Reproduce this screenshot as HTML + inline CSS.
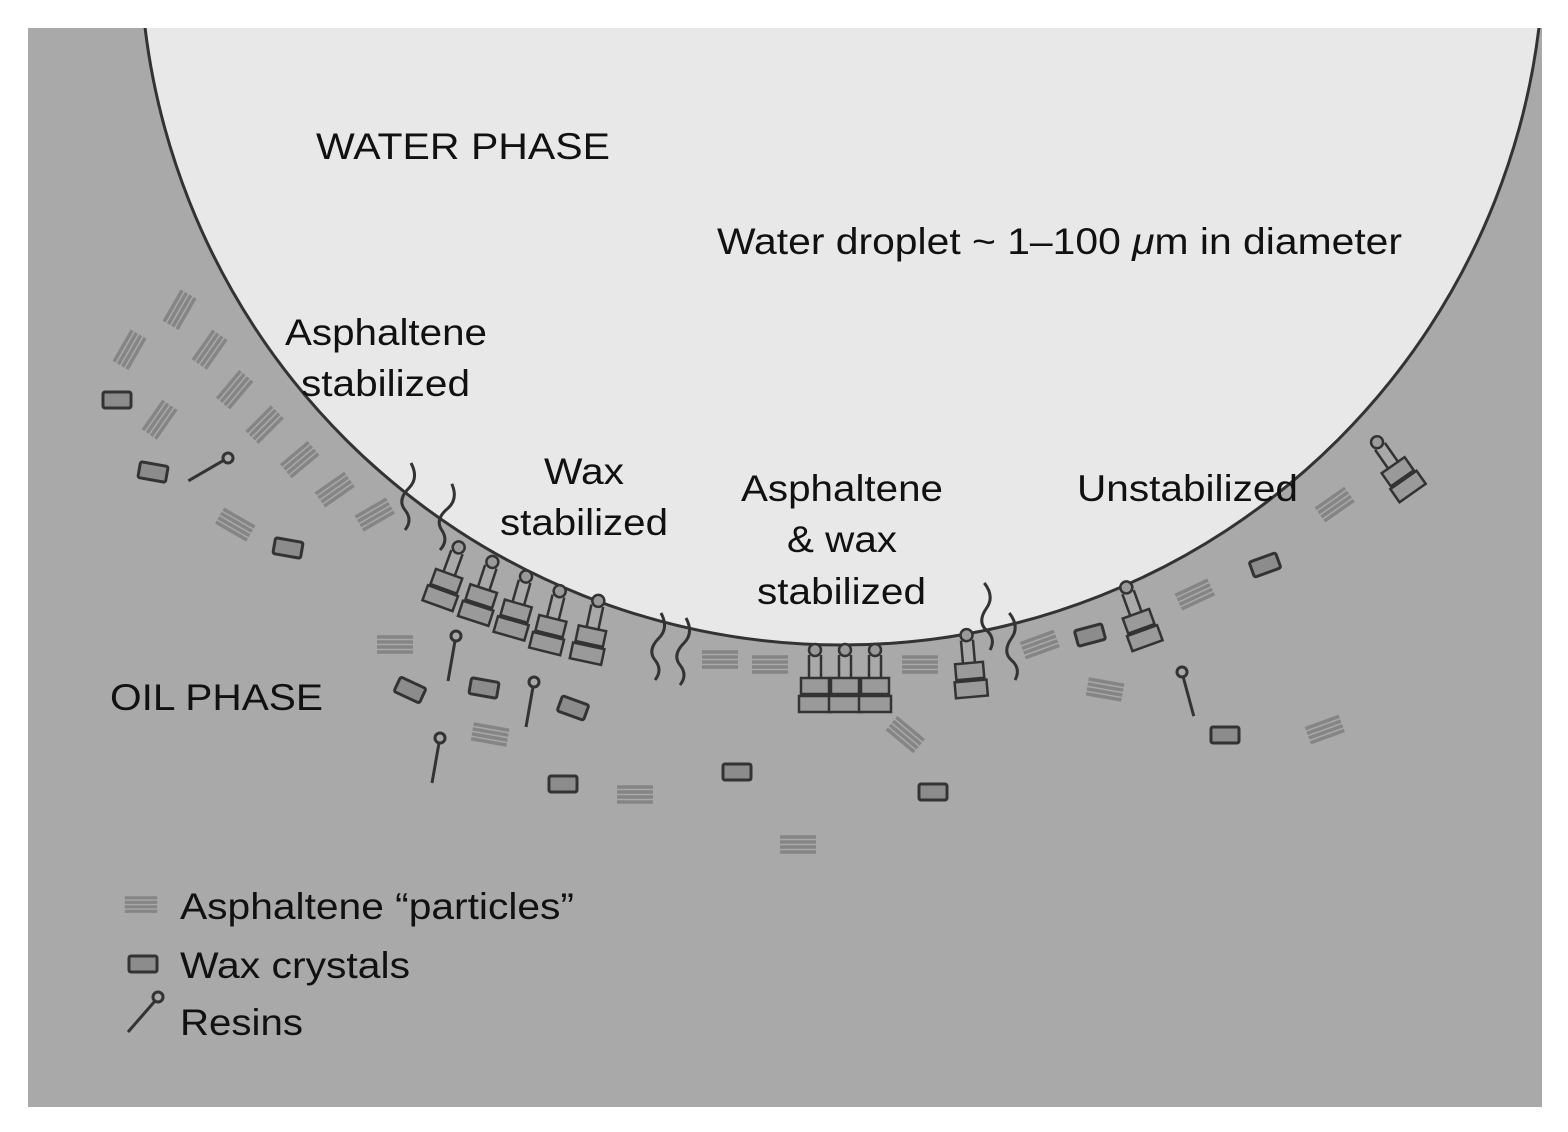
<!DOCTYPE html>
<html><head><meta charset="utf-8"><style>
html,body{margin:0;padding:0;background:#fff;}
svg{display:block}
text{font-family:"Liberation Sans",sans-serif;fill:#111}
</style></head><body>
<svg width="1568" height="1132" viewBox="0 0 1568 1132" xmlns="http://www.w3.org/2000/svg">
<defs>
<clipPath id="f"><rect x="28" y="28" width="1514" height="1079"/></clipPath>
<g id="wx"><rect x="-14" y="-8" width="28" height="16" rx="2" fill="#8c8c8c" stroke="#333" stroke-width="3"/></g>
<g id="as" stroke="#858585" stroke-width="3.5"><line x1="-18" y1="-8" x2="18" y2="-8"/><line x1="-18" y1="-3" x2="18" y2="-3"/><line x1="-18" y1="2" x2="18" y2="2"/><line x1="-18" y1="7" x2="18" y2="7"/></g>
<g id="rs" stroke="#333" stroke-width="3" fill="none"><circle cx="0" cy="0" r="5"/><line x1="-1" y1="5" x2="-8" y2="45"/></g>
<g id="stk" stroke="#333" stroke-width="2.5" fill="#9a9a9a"><circle cx="0" cy="-40" r="6"/><line x1="-6" y1="-35" x2="-6" y2="-12"/><line x1="6" y1="-35" x2="6" y2="-12"/><rect x="-14" y="-12" width="28" height="16"/><rect x="-16" y="6" width="32" height="16"/></g>
<g id="wig" stroke="#333" stroke-width="3" fill="none"><path d="M0 0 q8 -10 0 -20 q-8 -10 4 -22 q10 -10 2 -25"/></g>
</defs>
<rect x="0" y="0" width="1568" height="1132" fill="#fff"/>
<g clip-path="url(#f)">
<rect x="28" y="28" width="1514" height="1079" fill="#a9a9a9"/>
<circle cx="842" cy="-57" r="702" fill="#e8e8e8" stroke="#333" stroke-width="3"/>
<g>
<use href="#as" transform="translate(180,310) rotate(-60)"/>
<use href="#as" transform="translate(210,350) rotate(-55)"/>
<use href="#as" transform="translate(235,390) rotate(-50)"/>
<use href="#as" transform="translate(265,425) rotate(-45)"/>
<use href="#as" transform="translate(300,460) rotate(-40)"/>
<use href="#as" transform="translate(335,490) rotate(-35)"/>
<use href="#as" transform="translate(375,515) rotate(-30)"/>
<use href="#as" transform="translate(130,350) rotate(-60)"/>
<use href="#as" transform="translate(160,420) rotate(-55)"/>
<use href="#as" transform="translate(235,525) rotate(30)"/>
<use href="#as" transform="translate(395,645)"/>
<use href="#as" transform="translate(490,735) rotate(10)"/>
<use href="#as" transform="translate(635,795)"/>
<use href="#as" transform="translate(798,845)"/>
<use href="#as" transform="translate(720,660)"/>
<use href="#as" transform="translate(770,665)"/>
<use href="#as" transform="translate(920,665)"/>
<use href="#as" transform="translate(905,735) rotate(40)"/>
<use href="#as" transform="translate(1040,645) rotate(-20)"/>
<use href="#as" transform="translate(1105,690) rotate(10)"/>
<use href="#as" transform="translate(1195,595) rotate(-25)"/>
<use href="#as" transform="translate(1335,505) rotate(-35)"/>
<use href="#as" transform="translate(1325,730) rotate(-20)"/>
</g>
<use href="#stk" transform="translate(445,585) rotate(20)"/>
<use href="#stk" transform="translate(480,600) rotate(18)"/>
<use href="#stk" transform="translate(515,615) rotate(16)"/>
<use href="#stk" transform="translate(550,630) rotate(14)"/>
<use href="#stk" transform="translate(590,640) rotate(12)"/>
<use href="#stk" transform="translate(815,690)"/>
<use href="#stk" transform="translate(845,690)"/>
<use href="#stk" transform="translate(875,690)"/>
<use href="#stk" transform="translate(970,675) rotate(-5)"/>
<use href="#stk" transform="translate(1140,625) rotate(-20)"/>
<use href="#stk" transform="translate(1400,475) rotate(-35)"/>
<use href="#wx" transform="translate(117,400)"/>
<use href="#wx" transform="translate(153,472) rotate(10)"/>
<use href="#wx" transform="translate(288,548) rotate(10)"/>
<use href="#wx" transform="translate(410,690) rotate(25)"/>
<use href="#wx" transform="translate(484,688) rotate(10)"/>
<use href="#wx" transform="translate(573,708) rotate(20)"/>
<use href="#wx" transform="translate(563,784)"/>
<use href="#wx" transform="translate(737,772)"/>
<use href="#wx" transform="translate(933,792)"/>
<use href="#wx" transform="translate(1090,635) rotate(-15)"/>
<use href="#wx" transform="translate(1265,565) rotate(-20)"/>
<use href="#wx" transform="translate(1225,735)"/>
<use href="#rs" transform="translate(228,458) rotate(50)"/>
<use href="#rs" transform="translate(456,636)"/>
<use href="#rs" transform="translate(534,682)"/>
<use href="#rs" transform="translate(440,738)"/>
<use href="#rs" transform="translate(1182,672) rotate(-25)"/>
<use href="#wig" transform="translate(405,530)"/>
<use href="#wig" transform="translate(440,550) rotate(5)"/>
<use href="#wig" transform="translate(655,680)"/>
<use href="#wig" transform="translate(680,685)"/>
<use href="#wig" transform="translate(990,650) rotate(-10)"/>
<use href="#wig" transform="translate(1015,680) rotate(-10)"/>
<use href="#as" transform="translate(141,905) scale(0.9)"/>
<use href="#wx" transform="translate(143,964)"/>
<g stroke="#333" stroke-width="3" fill="none"><circle cx="158" cy="997" r="5"/><line x1="155" y1="1001" x2="128" y2="1032"/></g>
</g>
<g font-size="37">
<text x="316" y="159" textLength="294" lengthAdjust="spacingAndGlyphs">WATER PHASE</text>
<text x="717" y="254" textLength="685" lengthAdjust="spacingAndGlyphs">Water droplet ~ 1–100 <tspan font-style="italic">μ</tspan>m in diameter</text>
<text x="285" y="345" textLength="202" lengthAdjust="spacingAndGlyphs">Asphaltene</text>
<text x="301" y="396" textLength="169" lengthAdjust="spacingAndGlyphs">stabilized</text>
<text x="544" y="484" textLength="80" lengthAdjust="spacingAndGlyphs">Wax</text>
<text x="500" y="535" textLength="168" lengthAdjust="spacingAndGlyphs">stabilized</text>
<text x="741" y="501" textLength="202" lengthAdjust="spacingAndGlyphs">Asphaltene</text>
<text x="787" y="552" textLength="110" lengthAdjust="spacingAndGlyphs">&amp; wax</text>
<text x="757" y="604" textLength="169" lengthAdjust="spacingAndGlyphs">stabilized</text>
<text x="1077" y="501" textLength="221" lengthAdjust="spacingAndGlyphs">Unstabilized</text>
<text x="110" y="710" textLength="213" lengthAdjust="spacingAndGlyphs">OIL PHASE</text>
<text x="180" y="919" textLength="394" lengthAdjust="spacingAndGlyphs">Asphaltene “particles”</text>
<text x="180" y="978" textLength="230" lengthAdjust="spacingAndGlyphs">Wax crystals</text>
<text x="180" y="1035" textLength="123" lengthAdjust="spacingAndGlyphs">Resins</text>
</g>
</svg>
</body></html>
